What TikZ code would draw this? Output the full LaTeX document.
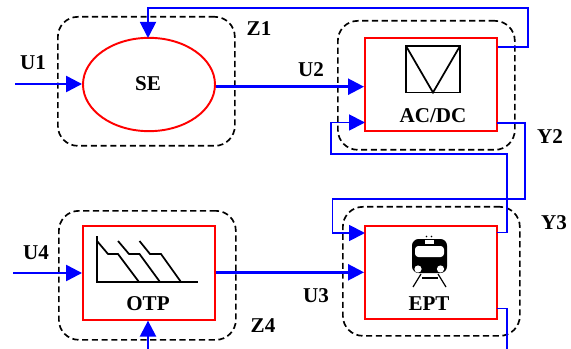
\documentclass[tikz,border=0pt]{standalone}
\usepackage{fontspec}
\setmainfont{Liberation Serif}
\usetikzlibrary{arrows.meta,shapes.geometric}
\tikzset{
  zone/.style={draw=black,line width=1.25pt,dash pattern=on 4.6pt off 2.7pt,rounded corners=15pt,inner sep=0pt,anchor=north west},
  blockbox/.style={draw=red,line width=1.45pt,inner sep=0pt,minimum width=99pt,minimum height=70pt},
  blockell/.style={draw=red,line width=1.45pt,ellipse,inner sep=0pt,minimum width=99pt,minimum height=70pt},
  lbl/.style={font=\fontsize{15.8}{18}\selectfont\bfseries,inner sep=0pt,text=black},
  main/.style={draw=blue,line width=1.8pt},
  fb/.style={draw=blue,line width=1.4pt},
  tip/.style={-{Triangle[length=12pt,width=12pt]}},
  icon/.style={draw=black,line width=1.3pt}
}
\begin{document}
\begin{tikzpicture}[x=0.75pt,y=-0.75pt]
\useasboundingbox (0,0) rectangle (571,349);
% zones
\node[zone,minimum width=132.75pt,minimum height=96.75pt] (z1) at (57,16) {};
\node[zone,minimum width=132.75pt,minimum height=96.75pt] (z2) at (337,20) {};
\node[zone,minimum width=132.75pt,minimum height=96.75pt] (z3) at (342,206) {};
\node[zone,minimum width=132.75pt,minimum height=96.75pt] (z4) at (58,210) {};
% blocks
\node[blockell] (se) at (149,84.5) {};
\node[blockbox] (ac) at (431,84.7) {};
\node[blockbox] (ept) at (431,272.5) {};
\node[blockbox] (otp) at (149,273) {};
% free ends and bends
\coordinate (u1s) at (15,84);
\coordinate (u4s) at (13,273);
\coordinate (otpb) at (148,349);
\coordinate (eptb) at (507,349);
\coordinate (acfb) at (498,47);
\coordinate (fbr) at (528,8);
\coordinate (setop) at (148,38);
\coordinate (acy) at (497,123);
\coordinate (acin) at (365,122.5);
\coordinate (eptfb) at (497,232.5);
\coordinate (eptin) at (365,233);
\coordinate (eptout) at (497,308.5);
% connectors
\draw[main,tip] (u1s) -- (se.west |- u1s);
\draw[main,tip] (se.east |- 0,86.7) -- (ac.west |- 0,86.7);
\draw[main,tip] (otp.east |- 0,272.3) -- (ept.west |- 0,272.3);
\draw[main,tip] (u4s) -- (otp.west |- u4s);
\draw[main,tip] (otpb) -- (otp.south -| otpb);
\draw[fb,tip] (acfb) -| (fbr) -| (setop);
\draw[fb,tip] (acy) -| (525,199) -| (332.5,233) -- (eptin);
\draw[fb,tip] (eptfb) -| (507,154) -| (331,122.5) -- (acin);
\draw[fb] (eptout) -| (eptb);
% labels
\node[lbl] at (148,83.5) {SE};
\node[lbl] at (433,116) {AC/DC};
\node[lbl] at (148,304) {OTP};
\node[lbl] at (429,303.5) {EPT};
\node[lbl] at (33,63) {U1};
\node[lbl] at (311,70) {U2};
\node[lbl] at (316,296) {U3};
\node[lbl] at (36,253) {U4};
\node[lbl] at (259,29) {Z1};
\node[lbl] at (263,326) {Z4};
\node[lbl] at (550,137) {Y2};
\node[lbl] at (554,223) {Y3};
% AC/DC icon
\draw[icon] (406,46) rectangle (460,92.5);
\draw[icon] (406,46) -- (433,92.5) -- (460,46);
% OTP icon
\draw[icon] (97,236) -- (97,282) -- (198,282);
\draw[icon] (97,241) -- (108,254) -- (118,254) -- (139,282);
\draw[icon] (118,241) -- (129,254) -- (139.5,254) -- (160,282);
\draw[icon] (139.5,241) -- (150,254) -- (161,254) -- (181,282);
% train icon
\fill[black,rounded corners=5pt] (412,239) rectangle (447,273);
\fill[white,rounded corners=2.5pt] (415,246) rectangle (444,257);
\fill[white] (425,240) rectangle (434,244);
\fill[white] (418,269) circle[radius=3.6];
\fill[white] (440.5,269) circle[radius=3.6];
\fill[black] (426.5,236.5) circle[radius=0.9] (431.5,236.5) circle[radius=0.9];
\draw[black,line width=0.9pt] (413,287) -- (421,274) (446,287) -- (438,274);
\draw[black,line width=1.1pt] (422,278) -- (438,278);
\end{tikzpicture}
\end{document}
